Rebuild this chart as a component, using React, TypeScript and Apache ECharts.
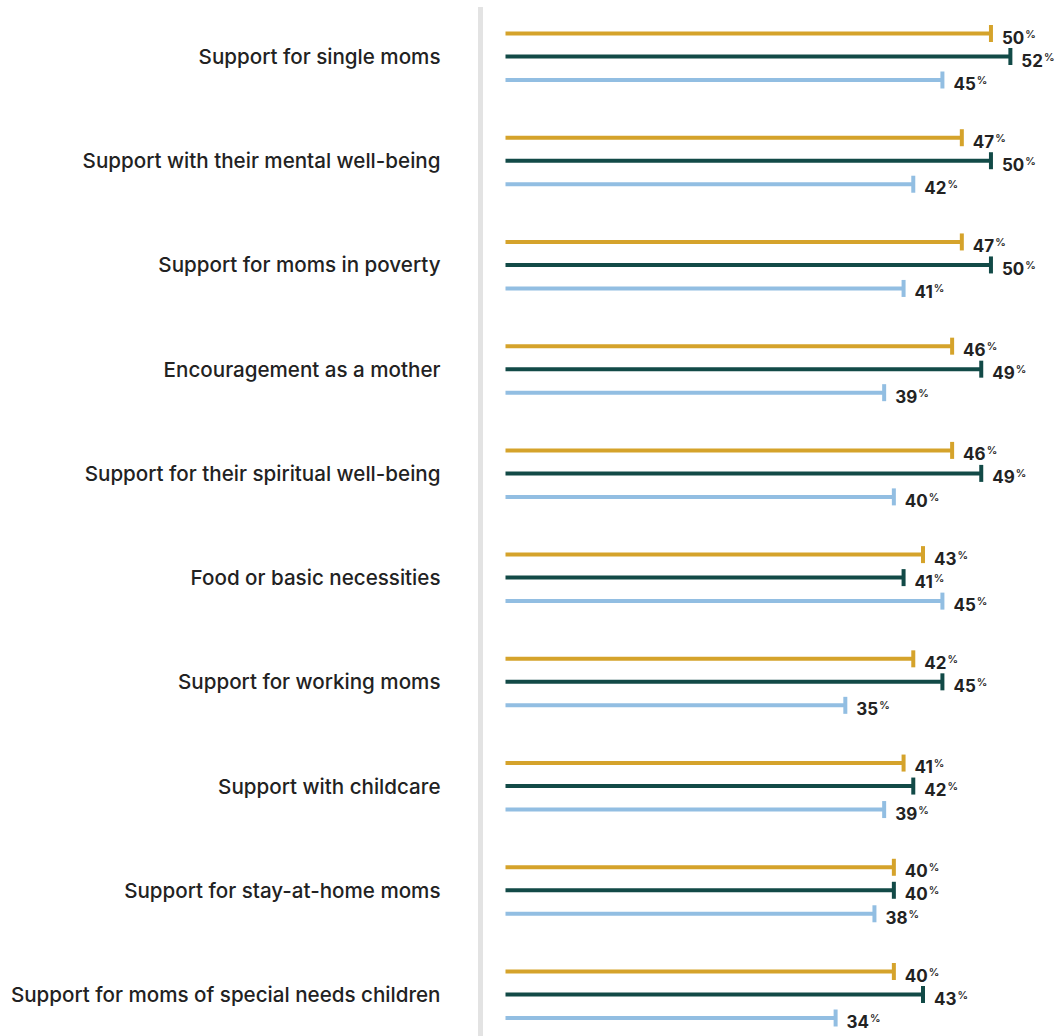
import React, { useEffect, useRef } from "react";
import * as echarts from "echarts";

const categories = [
  "Support for single moms",
  "Support with their mental well-being",
  "Support for moms in poverty",
  "Encouragement as a mother",
  "Support for their spiritual well-being",
  "Food or basic necessities",
  "Support for working moms",
  "Support with childcare",
  "Support for stay-at-home moms",
  "Support for moms of special needs children",
];

const seriesNames = ["Group A", "Group B", "Group C"];
const valuesA = [50, 47, 47, 46, 46, 43, 42, 41, 40, 40];
const valuesB = [52, 50, 50, 49, 49, 41, 45, 42, 40, 43];
const valuesC = [45, 42, 41, 39, 40, 45, 35, 39, 38, 34];
const colors = ["#D5A32B", "#124A47", "#92BEE2"];
const offsets = [-23, 0, 23.5];

const FONT = "Inter, 'Liberation Sans', Arial, sans-serif";

function makeSeries(name: string, values: number[], color: string, offset: number) {
  return {
    type: "custom",
    name,
    data: values.map((v, i) => [v, i]),
    encode: { x: 0, y: 1 },
    clip: false,
    renderItem: (params: any, api: any) => {
      const v = api.value(0);
      const c = api.value(1);
      const p0 = api.coord([0, c]);
      const p1 = api.coord([v, c]);
      const y = p0[1] + offset;
      return {
        type: "group",
        children: [
          {
            type: "rect",
            shape: { x: p0[0], y: y - 2, width: p1[0] - p0[0], height: 4 },
            style: { fill: color },
          },
          {
            type: "rect",
            shape: { x: p1[0] - 2, y: y - 8.5, width: 4, height: 17 },
            style: { fill: color },
          },
          {
            type: "text",
            x: p1[0] + 11,
            y: y + 4,
            style: {
              text: `{n|${v}}{p|%}`,
              verticalAlign: "middle",
              align: "left",
              rich: {
                n: {
                  fontFamily: FONT,
                  fontWeight: 700,
                  fontSize: 17,
                  lineHeight: 18,
                  fill: "#222222",
                },
                p: {
                  fontFamily: FONT,
                  fontWeight: 600,
                  fontSize: 10.5,
                  lineHeight: 18,
                  verticalAlign: "top",
                  fill: "#222222",
                  padding: [0, 0, 8, 1],
                },
              },
            },
          },
        ],
      };
    },
  };
}

export default function App() {
  const ref = useRef<HTMLDivElement>(null);
  useEffect(() => {
    if (!ref.current) return;
    const chart = echarts.init(ref.current, undefined, { renderer: "svg" });
    chart.setOption({
      animation: false,
      backgroundColor: "#ffffff",
      grid: { left: 505.5, top: 56.5, width: 534, bottom: 41.5 },
      xAxis: {
        type: "value",
        min: 0,
        max: 55,
        show: false,
      },
      yAxis: {
        type: "category",
        inverse: true,
        boundaryGap: false,
        data: categories,
        offset: 25,
        axisLine: { show: false },
        axisTick: { show: false },
        splitLine: { show: false },
        axisLabel: {
          margin: 40,
          fontFamily: FONT,
          fontWeight: 500,
          fontSize: 20.6,
          color: "#222222",
          padding: [4, 0, 0, 0],
        },
      },
      graphic: [
        {
          type: "rect",
          shape: { x: 478, y: 7, width: 5, height: 1040 },
          style: { fill: "#E3E3E3" },
          silent: true,
        },
      ],
      series: [
        makeSeries(seriesNames[0], valuesA, colors[0], offsets[0]),
        makeSeries(seriesNames[1], valuesB, colors[1], offsets[1]),
        makeSeries(seriesNames[2], valuesC, colors[2], offsets[2]),
      ],
    });
    return () => chart.dispose();
  }, []);
  return (
    <div
      ref={ref}
      style={{ position: "absolute", left: 0, top: 0, width: 1060, height: 1036 }}
    />
  );
}
